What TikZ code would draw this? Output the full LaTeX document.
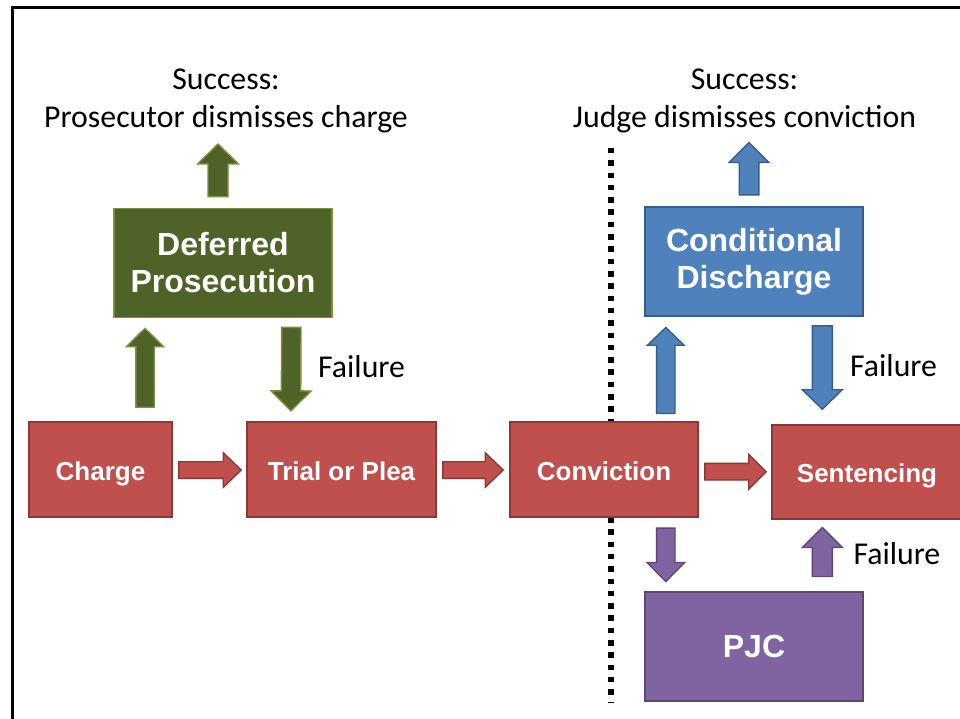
\documentclass[tikz,border=0pt]{standalone}
\usepackage{fontspec}
\setmainfont{Carlito}
\newfontfamily\boxfont{Liberation Sans}
\usetikzlibrary{calc}
\definecolor{redfill}{HTML}{C0504D}
\definecolor{redline}{HTML}{8C3836}
\definecolor{greenfill}{HTML}{4F6228}
\definecolor{greenline}{HTML}{77933C}
\definecolor{bluefill}{HTML}{4F81BD}
\definecolor{blueline}{HTML}{385D8A}
\definecolor{purplefill}{HTML}{8064A2}
\definecolor{purpleline}{HTML}{5C4776}
% #1 style, #2 from, #3 to, #4 shaft half width, #5 head half width, #6 head length
\newcommand{\blockarrow}[6]{%
  \coordinate (bahead) at ($(#3)!#6pt!(#2)$);
  \draw[#1] ($(#2)!#4pt!90:(#3)$) -- ($(bahead)!#4pt!-90:(#2)$) -- ($(bahead)!#5pt!-90:(#2)$) -- (#3) -- ($(bahead)!#5pt!90:(#2)$) -- ($(bahead)!#4pt!90:(#2)$) -- ($(#2)!#4pt!-90:(#3)$) -- cycle;
}
\tikzset{
  box/.style={line width=1.6pt, text=white, inner sep=0pt, align=center},
  redbox/.style={box, fill=redfill, draw=redline, minimum height=95pt,
    text height=21pt, text depth=0pt,
    font=\boxfont\bfseries\fontsize{26}{30}\selectfont},
  bigbox/.style={box, minimum width=218pt, minimum height=109pt,
    font=\boxfont\bfseries\fontsize{32}{37}\selectfont},
  greenbox/.style={bigbox, fill=greenfill, draw=greenline},
  bluebox/.style={bigbox, fill=bluefill, draw=blueline},
  purplebox/.style={bigbox, fill=purplefill, draw=purpleline},
  redarrow/.style={fill=redfill, draw=redline, line width=1.4pt, line join=miter},
  greenarrow/.style={fill=greenfill, draw=greenline, line width=1.4pt, line join=miter},
  bluearrow/.style={fill=bluefill, draw=blueline, line width=1.4pt, line join=miter},
  purplearrow/.style={fill=purplefill, draw=purpleline, line width=1.4pt, line join=miter},
  lbl/.style={font=\fontsize{31.8}{38}\selectfont, inner sep=0pt, text=black},
}
\begin{document}
\begin{tikzpicture}[x=1pt,y=-1pt]
\clip (0,0) rectangle (960,719);
\fill[white] (0,0) rectangle (960,719);
% frame
\draw[line width=2.5pt] (12.5,730) -- (12.5,7.5) -- (975,7.5);
% dotted divider
\draw[line width=5.5pt, dash pattern=on 5.5pt off 6.8pt] (611,148) -- (611,702);

% boxes
\node[redbox, minimum width=143pt] (charge) at (100.5,469.5) {Charge};
\node[redbox, minimum width=189pt] (trial) at (341.5,469.5) {Trial or Plea};
\node[redbox, minimum width=188pt] (conv) at (604,469.5) {Conviction};
\node[redbox, minimum width=190pt, minimum height=94pt] (sent) at (867,472) {Sentencing};
\node[greenbox] (defer) at (223,263) {Deferred\\Prosecution};
\node[bluebox] (cond) at (754,261.5) {Conditional\\Discharge};
\node[purplebox] (pjc) at (754,646.5) {PJC};

% labels
\node[lbl, align=center, anchor=base] (succL) at (226,128) {Success:\\Prosecutor dismisses charge};
\node[lbl, align=center, anchor=base] (succR) at (744.5,128) {Success:\\Judge dismisses conviction};
\node[lbl, anchor=base west] (fail1) at (318,377.3) {Failure};
\node[lbl, anchor=base west] (fail2) at (850,376) {Failure};
\node[lbl, anchor=base west] (fail3) at (853.3,564.3) {Failure};

% arrow end points
\coordinate (a1s) at ($(charge.east)+(6,0.5)$);
\coordinate (a1e) at ($(trial.west)+(-5,0.5)$);
\coordinate (a2s) at ($(trial.east)+(6,0.5)$);
\coordinate (a2e) at ($(conv.west)+(-6,0.5)$);
\coordinate (a3s) at ($(conv.east)+(6,2.2)$);
\coordinate (a3e) at ($(sent.west)+(-5,-0.3)$);
\coordinate (a4s) at ($(charge.north)+(44.5,-14)$);
\coordinate (a4e) at ($(defer.south)+(-78,10)$);
\coordinate (a5s) at ($(defer.south)+(68.3,9)$);
\coordinate (a5e) at ($(trial.north)+(-50.5,-10.3)$);
\coordinate (a6s) at ($(defer.north)+(-5,-11)$);
\coordinate (a6e) at ($(defer.north)+(-5,-63.7)$);
\coordinate (a7s) at ($(cond.north)+(-5,-11.3)$);
\coordinate (a7e) at ($(cond.north)+(-5,-63.7)$);
\coordinate (a8s) at ($(conv.north)+(61.8,-7.7)$);
\coordinate (a8e) at ($(cond.south)+(-88.2,10.7)$);
\coordinate (a9s) at ($(cond.south)+(68.3,9)$);
\coordinate (a9e) at ($(sent.north)+(-44.7,-15)$);
\coordinate (a10s) at ($(conv.south)+(61.8,10.3)$);
\coordinate (a10e) at ($(pjc.north)+(-88.2,-9.7)$);
\coordinate (a11s) at ($(pjc.north)+(68.3,-14.7)$);
\coordinate (a11e) at ($(sent.south)+(-44.7,7.7)$);

% block arrows
\blockarrow{redarrow}{a1s}{a1e}{8.3}{17.3}{18}
\blockarrow{redarrow}{a2s}{a2e}{8.3}{17.3}{18}
\blockarrow{redarrow}{a3s}{a3e}{8.3}{17.5}{17.5}
\blockarrow{greenarrow}{a4s}{a4e}{9.2}{18.7}{18.4}
\blockarrow{greenarrow}{a5s}{a5e}{9.7}{20}{20}
\blockarrow{greenarrow}{a6s}{a6e}{10}{20.5}{20}
\blockarrow{bluearrow}{a7s}{a7e}{9.8}{19.8}{20}
\blockarrow{bluearrow}{a8s}{a8e}{9.2}{18.3}{17.7}
\blockarrow{bluearrow}{a9s}{a9e}{10}{20}{19.5}
\blockarrow{purplearrow}{a10s}{a10e}{9.2}{18.7}{19}
\blockarrow{purplearrow}{a11s}{a11e}{10}{20}{20}
\end{tikzpicture}
\end{document}
